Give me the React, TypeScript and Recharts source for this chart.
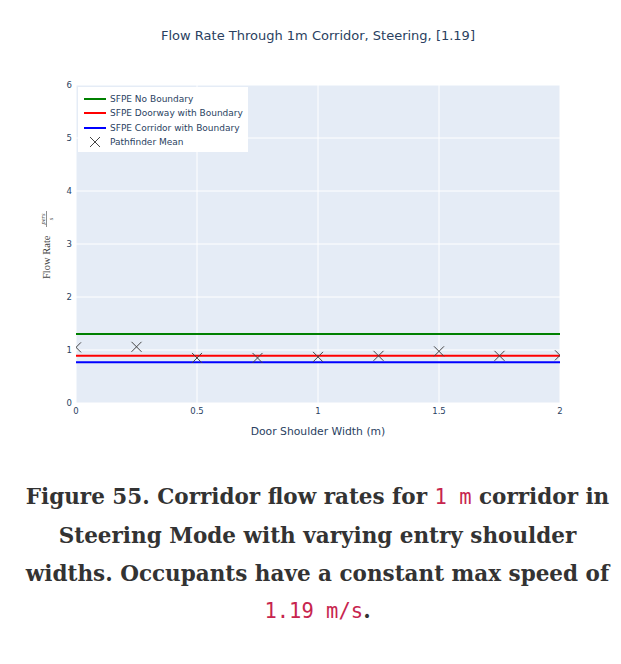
import React from "react";
import * as Recharts from "recharts";
import { ComposedChart, Line, Scatter, XAxis, YAxis, CartesianGrid } from "recharts";

const shoulderWidths = [0, 0.25, 0.5, 0.75, 1, 1.25, 1.5, 1.75, 2];
const sfpeNoBoundary = [1.3, 1.3, 1.3, 1.3, 1.3, 1.3, 1.3, 1.3, 1.3];
const sfpeDoorway = [0.89, 0.89, 0.89, 0.89, 0.89, 0.89, 0.89, 0.89, 0.89];
const sfpeCorridor = [0.77, 0.77, 0.77, 0.77, 0.77, 0.77, 0.77, 0.77, 0.77];
const pathfinderMean = [1.05, 1.06, 0.85, 0.85, 0.87, 0.89, 0.975, 0.89, 0.9];
const xTicks = [0, 0.5, 1, 1.5, 2];
const yTicks = [0, 1, 2, 3, 4, 5, 6];

const chartData = shoulderWidths.map((w, i) => ({
  width: w,
  noBoundary: sfpeNoBoundary[i],
  doorway: sfpeDoorway[i],
  corridor: sfpeCorridor[i],
}));
const scatterData = shoulderWidths.map((w, i) => ({ width: w, flow: pathfinderMean[i] }));

const legendItems = [
  { name: "SFPE No Boundary", color: "green", kind: "line" },
  { name: "SFPE Doorway with Boundary", color: "red", kind: "line" },
  { name: "SFPE Corridor with Boundary", color: "blue", kind: "line" },
  { name: "Pathfinder Mean", color: "#444", kind: "x" },
];

const chartMargin = { top: 85, right: 61, left: 56, bottom: 37 };
const plotFont = '"DejaVu Sans", verdana, sans-serif';
const textColor = "#2a3f5f";

// plot area, from the library when it exposes it
const usePlotAreaSafe: () => any = (Recharts as any).usePlotArea || (() => undefined);

const XMark = (props: any) => {
  const area = usePlotAreaSafe();
  const { cx, cy } = props;
  if (cx == null || cy == null) return null;
  const r = 5;
  const clip = area || { x: 76, y: 85, width: 484, height: 318 };
  const id = `xclip-${Math.round(cx)}-${Math.round(cy)}`;
  return (
    <g>
      <defs>
        <clipPath id={id}>
          <rect x={clip.x} y={clip.y} width={clip.width} height={clip.height} />
        </clipPath>
      </defs>
      <g stroke="#444" strokeWidth={1} clipPath={`url(#${id})`}>
        <line x1={cx - r} y1={cy - r} x2={cx + r} y2={cy + r} />
        <line x1={cx - r} y1={cy + r} x2={cx + r} y2={cy - r} />
      </g>
    </g>
  );
};

const YTitle = (props: any) => {
  const vb = props.viewBox || { y: 85, height: 318 };
  const cy = vb.y + vb.height / 2 + 1;
  return (
    <g transform={`translate(46, ${cy}) rotate(-90)`} fill="#444" fontFamily="serif">
      <text x={-34} y={4} fontSize={10.5}>Flow Rate</text>
      <text x={26} y={-1.5} fontSize={6.5} textAnchor="middle" fontStyle="italic">pers</text>
      <line x1={18} x2={34} y1={0.5} y2={0.5} stroke="#444" strokeWidth={0.6} />
      <text x={26} y={6.5} fontSize={6.5} textAnchor="middle" fontStyle="italic">s</text>
    </g>
  );
};

const code: React.CSSProperties = {
  fontFamily: '"DejaVu Sans Mono", monospace',
  fontWeight: 400,
  fontSize: 20.5,
  color: "#c7254e",
};

export default function App() {
  return (
    <div style={{ margin: -8, position: "relative", width: 621, height: 664, overflow: "hidden", background: "#fff" }}>
      <div style={{ position: "absolute", left: 4, top: 1, width: 640, height: 700, borderTop: "2px solid #ccc", borderLeft: "2px solid #ccc" }} />
      <div style={{ position: "absolute", left: 18, top: 28, width: 600, textAlign: "center", fontFamily: plotFont, fontSize: 13, color: textColor }}>
        Flow Rate Through 1m Corridor, Steering, [1.19]
      </div>
      <div style={{ position: "absolute", left: 0, top: 0 }}>
        <ComposedChart width={621} height={460} data={chartData} margin={chartMargin}>
          <CartesianGrid stroke="#fff" strokeWidth={1} fill="#E5ECF6" horizontalValues={yTicks} verticalValues={xTicks} />
          <XAxis
            dataKey="width"
            type="number"
            domain={[0, 2]}
            ticks={xTicks}
            allowDataOverflow
            axisLine={false}
            tickSize={0}
            tickMargin={5}
            height={20}
            tick={{ fontSize: 8.5, fill: textColor, fontFamily: plotFont }}
          />
          <YAxis
            type="number"
            domain={[0, 6]}
            ticks={yTicks}
            allowDataOverflow
            axisLine={false}
            tickSize={0}
            tickMargin={4}
            width={20}
            tick={{ fontSize: 8.5, fill: textColor, fontFamily: plotFont }}
            label={<YTitle />}
          />
          <Line dataKey="noBoundary" stroke="green" strokeWidth={2} dot={false} isAnimationActive={false} />
          <Line dataKey="doorway" stroke="red" strokeWidth={2} dot={false} isAnimationActive={false} />
          <Line dataKey="corridor" stroke="blue" strokeWidth={2} dot={false} isAnimationActive={false} />
          <Scatter data={scatterData} dataKey="flow" shape={<XMark />} isAnimationActive={false} />
        </ComposedChart>
      </div>
      <div style={{ position: "absolute", left: 18, top: 425, width: 600, textAlign: "center", fontFamily: plotFont, fontSize: 10.8, color: textColor }}>
        Door Shoulder Width (m)
      </div>
      <div style={{ position: "absolute", left: 78, top: 87, width: 170, height: 65, background: "#fff", fontFamily: plotFont, fontSize: 9, color: textColor }}>
        {legendItems.map((it, i) => (
          <div key={it.name} style={{ position: "absolute", left: 6, top: 5 + i * 14.3, height: 14, display: "flex", alignItems: "center" }}>
            <svg width={26} height={14}>
              {it.kind === "line" ? (
                <line x1={0} x2={22} y1={7} y2={7} stroke={it.color} strokeWidth={2} />
              ) : (
                <g stroke={it.color} strokeWidth={1}>
                  <line x1={6} y1={2} x2={16} y2={12} />
                  <line x1={6} y1={12} x2={16} y2={2} />
                </g>
              )}
            </svg>
            <span style={{ whiteSpace: "nowrap" }}>{it.name}</span>
          </div>
        ))}
      </div>
      <div style={{ position: "absolute", left: 8, top: 478, width: 619, textAlign: "center", fontFamily: '"DejaVu Serif", serif', fontWeight: 700, fontSize: 21.5, lineHeight: "37.8px", color: "#333" }}>
        <div style={{ whiteSpace: "nowrap" }}>Figure 55. Corridor flow rates for <span style={code}>1 m</span> corridor in</div>
        <div style={{ whiteSpace: "nowrap" }}>Steering Mode with varying entry shoulder</div>
        <div style={{ whiteSpace: "nowrap" }}>widths. Occupants have a constant max speed of</div>
        <div style={{ whiteSpace: "nowrap" }}><span style={code}>1.19 m/s</span>.</div>
      </div>
    </div>
  );
}
